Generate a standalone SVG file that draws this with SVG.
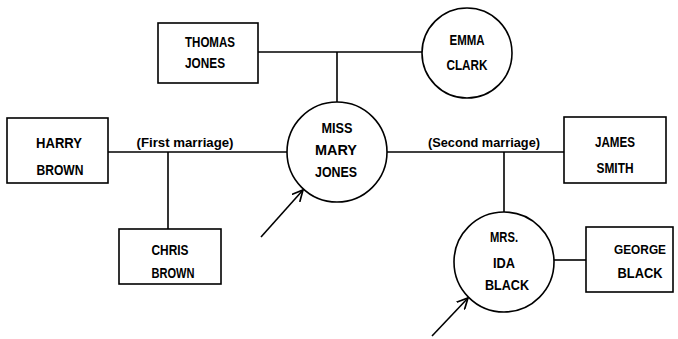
<svg xmlns="http://www.w3.org/2000/svg" width="678" height="339" viewBox="0 0 678 339">
<defs>
<marker id="arr" viewBox="0 0 12 12" refX="11" refY="6" markerWidth="12" markerHeight="12" markerUnits="userSpaceOnUse" orient="auto">
<polyline points="0,0.5 11,6 0,11.5" fill="none" stroke="#000" stroke-width="1.7"/>
</marker>
</defs>
<style>
.n{fill:#fff;stroke:#000;stroke-width:1.6}
.t{font-family:"Liberation Sans",Arial,sans-serif;font-weight:bold;font-size:15px;text-anchor:middle;fill:#000}
.s{font-size:13.5px}
.l{font-family:"Liberation Sans",Arial,sans-serif;font-weight:bold;font-size:12.5px;text-anchor:middle;fill:#000}
.c{stroke:#000;stroke-width:1.6;fill:none}
</style>
<rect width="678" height="339" fill="#fff"/>
<g id="connectors">
<line class="c" x1="258" y1="52" x2="422" y2="52"/>
<line class="c" x1="337" y1="52" x2="337" y2="102"/>
<line class="c" x1="108" y1="152" x2="287" y2="152"/>
<line class="c" x1="168" y1="152" x2="168" y2="229"/>
<line class="c" x1="387" y1="152" x2="564" y2="152"/>
<line class="c" x1="504" y1="152" x2="504" y2="212"/>
<line class="c" x1="554" y1="260" x2="586" y2="260"/>
<line class="c" x1="261" y1="237" x2="303" y2="190" marker-end="url(#arr)"/>
<line class="c" x1="432" y1="336" x2="468" y2="298" marker-end="url(#arr)"/>
<text class="l" x="185" y="147" textLength="97" lengthAdjust="spacingAndGlyphs">(First  marriage)</text>
<text class="l" x="484" y="147" textLength="112" lengthAdjust="spacingAndGlyphs">(Second  marriage)</text>
</g>
<g id="thomas">
<rect class="n" x="158" y="23" width="100" height="60"/>
<text class="t" x="210" y="47" textLength="50" lengthAdjust="spacingAndGlyphs">THOMAS</text>
<text class="t" x="205" y="68" textLength="40" lengthAdjust="spacingAndGlyphs">JONES</text>
</g>
<g id="emma">
<circle class="n" cx="467" cy="53" r="45"/>
<text class="t" x="467" y="45" textLength="35" lengthAdjust="spacingAndGlyphs">EMMA</text>
<text class="t" x="467" y="70" textLength="41" lengthAdjust="spacingAndGlyphs">CLARK</text>
</g>
<g id="harry">
<rect class="n" x="7" y="118" width="101" height="65"/>
<text class="t" x="59" y="148" textLength="46" lengthAdjust="spacingAndGlyphs">HARRY</text>
<text class="t" x="60" y="175" textLength="47" lengthAdjust="spacingAndGlyphs">BROWN</text>
</g>
<g id="mary">
<circle class="n" cx="337" cy="152" r="50"/>
<text class="t" x="337" y="133" textLength="31" lengthAdjust="spacingAndGlyphs">MISS</text>
<text class="t" x="336" y="155" textLength="42" lengthAdjust="spacingAndGlyphs">MARY</text>
<text class="t" x="336" y="177" textLength="42" lengthAdjust="spacingAndGlyphs">JONES</text>
</g>
<g id="james">
<rect class="n" x="564" y="117" width="102" height="66"/>
<text class="t" x="615" y="147" textLength="40" lengthAdjust="spacingAndGlyphs">JAMES</text>
<text class="t" x="615" y="173" textLength="37" lengthAdjust="spacingAndGlyphs">SMITH</text>
</g>
<g id="chris">
<rect class="n" x="119" y="229" width="102" height="55"/>
<text class="t" x="170" y="255" textLength="37" lengthAdjust="spacingAndGlyphs">CHRIS</text>
<text class="t" x="173" y="278" textLength="43" lengthAdjust="spacingAndGlyphs">BROWN</text>
</g>
<g id="ida">
<circle class="n" cx="504" cy="262" r="50"/>
<text class="t" x="504" y="242" textLength="28" lengthAdjust="spacingAndGlyphs">MRS.</text>
<text class="t" x="504" y="268" textLength="22" lengthAdjust="spacingAndGlyphs">IDA</text>
<text class="t" x="507" y="290" textLength="44" lengthAdjust="spacingAndGlyphs">BLACK</text>
</g>
<g id="george">
<rect class="n" x="586" y="227" width="87" height="65"/>
<text class="t s" x="640" y="254" textLength="52" lengthAdjust="spacingAndGlyphs">GEORGE</text>
<text class="t" x="640" y="278" textLength="45" lengthAdjust="spacingAndGlyphs">BLACK</text>
</g>
</svg>
